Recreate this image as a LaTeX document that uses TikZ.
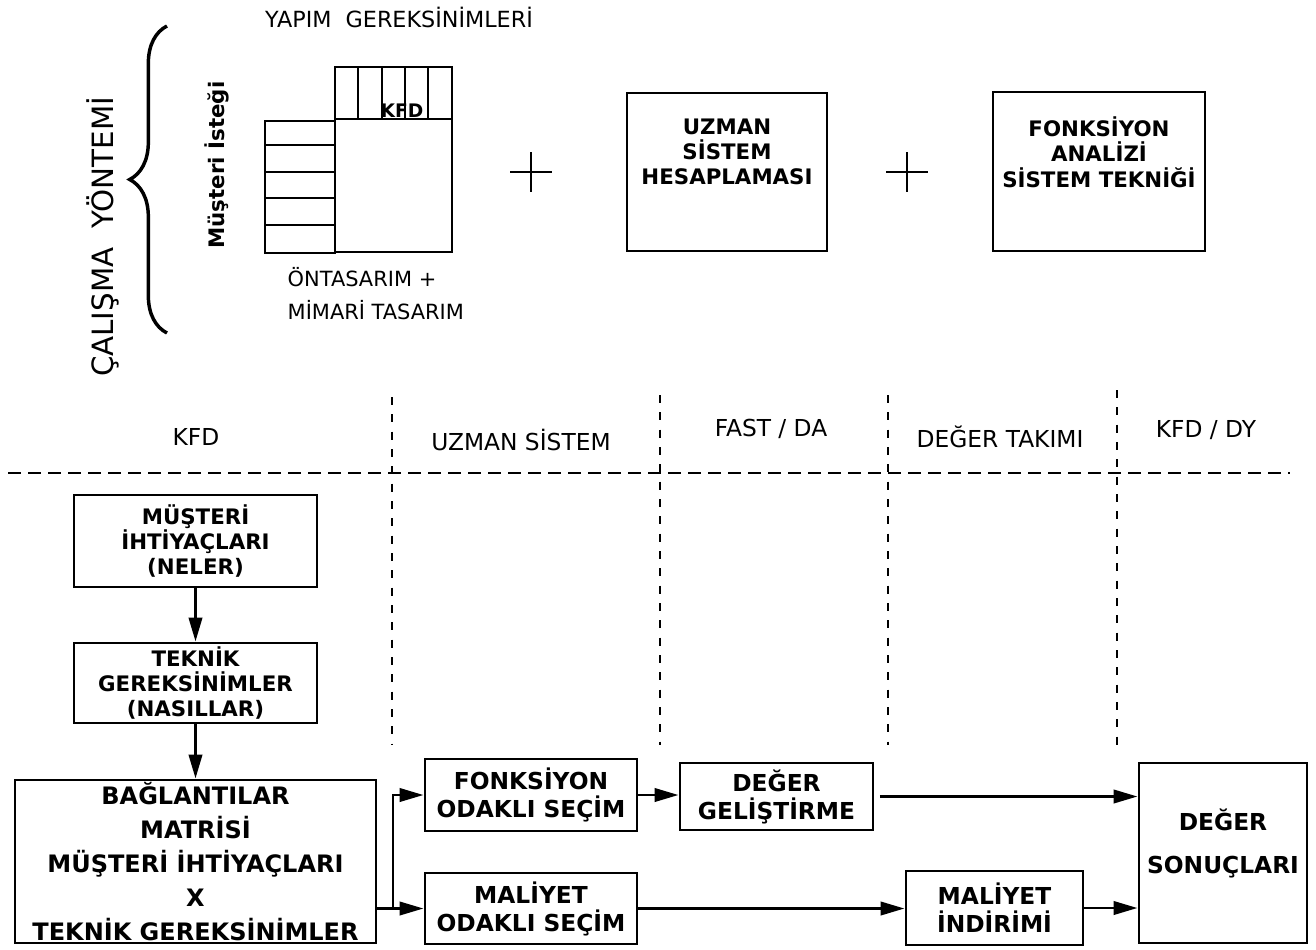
\documentclass[tikz,border=0pt]{standalone}
\usepackage{fontspec}
\setmainfont{DejaVu Sans}
\usepackage{tikz}
\usetikzlibrary{arrows.meta,decorations.pathreplacing}
\tikzstyle{box}=[draw,line width=2.2pt,align=center,inner sep=0pt,font=\bfseries\fontsize{17.5}{21}\selectfont]
\tikzstyle{smallbox}=[box,font=\bfseries\fontsize{16}{18.5}\selectfont]
\tikzstyle{topbox}=[draw,line width=1.6pt,inner sep=0pt]
\tikzstyle{toptext}=[align=center,font=\bfseries\fontsize{16}{19}\selectfont]
\tikzstyle{header}=[font=\fontsize{17.5}{21}\selectfont]
\tikzstyle{line} = [draw,line width=2.2pt,-{Triangle[length=18pt,width=10pt]}]

\begin{document}
\begin{tikzpicture}[x=0.75pt,y=-0.75pt]
  \tikzstyle{grid}=[line width=1.6pt]
  \tikzstyle{hdivider}=[draw,line width=1.8pt,dash pattern=on 10pt off 5pt]
  \tikzstyle{vdivider}=[draw,line width=1.6pt,dash pattern=on 6pt off 7pt]
  \useasboundingbox (0,0) rectangle (1316,949);
  % method
  \node[font=\fontsize{16.7}{20}\selectfont] (yapim) at (399,17) {YAPIM\ \ GEREKSİNİMLERİ};
  \node[rotate=90,font=\fontsize{22}{26}\selectfont] (calisma) at (103,237) {ÇALIŞMA\ \ YÖNTEMİ};
  \coordinate (bracebottom) at (167,333);
  \coordinate (bracetop) at (167,26);
  \draw[line width=2.6pt,decorate,decoration={brace,amplitude=28pt}] (bracebottom) -- (bracetop);
  \node[rotate=90,font=\bfseries\fontsize{16}{19}\selectfont] (istek) at (217,165) {Müşteri İsteği};
  % house of quality
  \draw[grid] (335,67) rectangle (452,119);
  \foreach \x in {358,382,405,428} \draw[grid] (\x,67) -- (\x,119);
  \draw[grid] (335,119) rectangle (452,252);
  \draw[grid] (265,121) rectangle (335,253);
  \foreach \y in {145,172,198,225} \draw[grid] (265,\y) -- (335,\y);
  \node[font=\bfseries\fontsize{14}{16}\selectfont] (kfdmatrix) at (402,111) {KFD};
  \node[anchor=west,font=\fontsize{15.7}{19}\selectfont] (ontasarim) at (283,277) {ÖNTASARIM +};
  \node[anchor=west,font=\fontsize{15.7}{19}\selectfont] (mimari) at (283,310) {MİMARİ TASARIM};
  % plus signs
  \draw[line width=1.3pt] (510,172) -- (552,172) (531,152) -- (531,192);
  \draw[line width=1.3pt] (886,172) -- (928,172) (907,152) -- (907,192);
  \node[topbox,minimum width=150pt,minimum height=118.5pt] (uzmanbox) at (727,172) {};
  \node[toptext] (uzmantext) at (727,152) {UZMAN\\SİSTEM\\HESAPLAMASI};
  \node[topbox,minimum width=159pt,minimum height=119.25pt] (fonkbox) at (1099,171.5) {};
  \node[toptext] (fonktext) at (1099,152) {FONKSİYON\\ANALİZİ\\SİSTEM TEKNİĞİ};
  % headers
  \node[header] (kfdhead) at (196,437) {KFD};
  \node[header] (uzmanhead) at (521,440) {UZMAN SİSTEM};
  \node[header] (fasthead) at (771,429) {FAST / DA};
  \node[header] (degerhead) at (1000,437) {DEĞER TAKIMI};
  \node[header] (kfddyhead) at (1206,430) {KFD / DY};
  % dividing lines
  \coordinate (hstart) at (8,473);
  \coordinate (hend) at (1290,473);
  \path[hdivider] (hstart) -- (hend);
  \foreach \x/\top in {392/397,660/395,888/395,1117/390}
    \path[vdivider] (\x,\top) -- (\x,745);
  % boxes
  \node[smallbox,minimum width=182.25pt,minimum height=69pt] (needs) at (195.5,541) {MÜŞTERİ\\İHTİYAÇLARI\\(NELER)};
  \node[smallbox,minimum width=182.25pt,minimum height=60pt] (techreq) at (195.5,683) {TEKNİK\\GEREKSİNİMLER\\(NASILLAR)};
  \node[box,font=\bfseries\fontsize{18}{25.5}\selectfont,minimum width=270.75pt,minimum height=122.25pt] (linkmatrix) at (195.5,861.5) {BAĞLANTILAR\\MATRİSİ\\MÜŞTERİ İHTİYAÇLARI\\X\\TEKNİK GEREKSİNİMLER};
  \node[box,minimum width=159pt,minimum height=54pt] (fos) at (531,795) {FONKSİYON\\ODAKLI SEÇİM};
  \node[box,minimum width=159pt,minimum height=53.25pt] (mos) at (531,908.5) {MALİYET\\ODAKLI SEÇİM};
  \node[box,minimum width=144.75pt,minimum height=50.25pt] (dg) at (776.5,796.5) {DEĞER\\GELİŞTİRME};
  \node[box,minimum width=132.75pt,minimum height=55.5pt] (mi) at (994.5,908) {MALİYET\\İNDİRİMİ};
  \node[box,minimum width=126pt,minimum height=135pt] (resultbox) at (1223,853) {};
  \node[align=center,font=\bfseries\fontsize{17.5}{21}\selectfont] (resulttext) at (1223,843.5) {DEĞER\\[11pt]SONUÇLARI};
  % arrows
  \path[line] (needs) -- (techreq);
  \path[line] (techreq) -- (linkmatrix);
  \coordinate (split) at (393,908.5);
  \path[line] (linkmatrix.east |- split) -- (mos.west);
  \path[line] (split) |- (fos.west);
  \path[line] (fos.east) -- (fos.east -| dg.west);
  \path[line] (mos.east) -- (mos.east -| mi.west);
  \path[line,shorten <=4pt] (dg.east) -- (dg.east -| resultbox.west);
  \path[line] (mi.east) -- (mi.east -| resultbox.west);
\end{tikzpicture}
\end{document}
